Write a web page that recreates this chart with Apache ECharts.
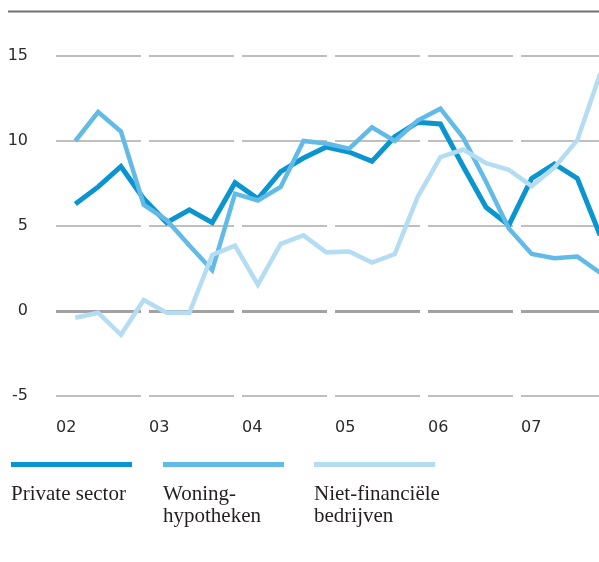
<!DOCTYPE html>
<html>
<head>
<meta charset="utf-8">
<script src="https://cdn.jsdelivr.net/npm/echarts@6/dist/echarts.min.js"></script>
<style>
  html, body { margin: 0; padding: 0; background: #ffffff; }
  #chart { width: 599px; height: 562px; }
</style>
</head>
<body>
<div id="chart"></div>
<script>
// Quarterly observations, 2002 K1 .. 2007 K4
const quarters = [
  '2002 K1','2002 K2','2002 K3','2002 K4',
  '2003 K1','2003 K2','2003 K3','2003 K4',
  '2004 K1','2004 K2','2004 K3','2004 K4',
  '2005 K1','2005 K2','2005 K3','2005 K4',
  '2006 K1','2006 K2','2006 K3','2006 K4',
  '2007 K1','2007 K2','2007 K3','2007 K4'
];
const privateSector = [6.3, 7.3, 8.5, 6.6, 5.2, 5.95, 5.2, 7.55, 6.6, 8.2, 9.0, 9.65,
                       9.35, 8.8, 10.25, 11.1, 11.0, 8.5, 6.1, 5.05, 7.8, 8.65, 7.8, 4.45];
const woningHypotheken = [10.0, 11.7, 10.55, 6.25, 5.35, 3.85, 2.4, 6.9, 6.5, 7.3, 10.0, 9.85,
                          9.55, 10.8, 10.0, 11.2, 11.9, 10.2, 7.6, 4.85, 3.35, 3.1, 3.2, 2.25];
const nietFinBedrijven = [-0.4, -0.1, -1.4, 0.65, -0.1, -0.1, 3.3, 3.85, 1.55, 3.95, 4.45, 3.45,
                          3.5, 2.85, 3.35, 6.7, 9.05, 9.5, 8.7, 8.3, 7.35, 8.45, 10.05, 13.95];
const yearLabels = ['02', '03', '04', '05', '06', '07'];
const seriesNames = ['Private sector', 'Woning-\nhypotheken', 'Niet-financiële\nbedrijven'];
const yTicks = { min: -5, max: 15, step: 5 };

const colors = ['#0a95d0', '#62bbe6', '#b4dcf2'];
const widths = [5, 4.5, 4.5];
const allValues = [privateSector, woningHypotheken, nietFinBedrijven];

const chart = echarts.init(document.getElementById('chart'), null, { renderer: 'canvas' });

const firstYear = 2002;
const legendLefts = [11, 163, 314];
const LINE_H = 22;
const ICON_TOP = 462;
const ICON_H = 5;
// text sits below the legend bar: shift (in px) of the first text line centre below the bar centre
const TEXT_SHIFT = 30;

function legendFor(name, i) {
  const nLines = name.split('\n').length;
  const contentH = nLines * LINE_H;
  // rich text: lineTop = y - contentH/2 + pt/2 ; first line centre = lineTop + LINE_H/2
  const pt = 2 * (TEXT_SHIFT - LINE_H / 2 + contentH / 2);
  // the legend box includes the padded text box which reaches above the bar
  const above = (contentH + pt) / 2 - ICON_H / 2;
  return {
    show: true,
    left: legendLefts[i],
    top: ICON_TOP - above,
    padding: 0,
    orient: 'horizontal',
    data: [name],
    icon: 'rect',
    itemWidth: 121,
    itemHeight: ICON_H,
    selectedMode: false,
    formatter: function (n) {
      return n.split('\n').map(function (s) { return '{t|' + s + '}'; }).join('\n');
    },
    textStyle: {
      fontFamily: '"Liberation Serif", "Times New Roman", serif',
      fontSize: 21,
      lineHeight: LINE_H,
      color: '#231f20',
      padding: [pt, 0, 0, -126],
      rich: {
        t: {
          fontFamily: '"Liberation Serif", "Times New Roman", serif',
          fontSize: 21,
          lineHeight: LINE_H,
          color: '#231f20'
        }
      }
    }
  };
}

const option = {
  animation: false,
  backgroundColor: '#ffffff',
  grid: { left: 56, right: 0, top: 56, bottom: 166, containLabel: false },
  graphic: [{
    type: 'line',
    shape: { x1: 8, y1: 11.5, x2: 599, y2: 11.5 },
    style: { stroke: '#707070', lineWidth: 2 },
    silent: true
  }],
  legend: seriesNames.map(legendFor),
  xAxis: [{
    type: 'value',
    min: firstYear,
    max: firstYear + 543 / 93,
    interval: 1,
    axisLine: { show: false },
    axisTick: { show: false },
    splitLine: { show: false },
    axisLabel: {
      show: true,
      align: 'left',
      margin: 24,
      fontSize: 16,
      fontFamily: '"DejaVu Sans", sans-serif',
      color: '#2b2b2b',
      showMaxLabel: false,
      formatter: function (v) {
        const idx = Math.round(v - firstYear);
        if (Math.abs(v - firstYear - idx) > 1e-6) return '';
        return yearLabels[idx] !== undefined ? yearLabels[idx] : '';
      }
    }
  }, {
    type: 'value',
    show: false,
    min: -0.8457,
    max: 22.95,
    splitLine: { show: false }
  }],
  yAxis: {
    type: 'value',
    min: yTicks.min,
    max: yTicks.max,
    interval: yTicks.step,
    axisLine: { show: false },
    axisTick: { show: false },
    axisLabel: {
      margin: 28,
      fontSize: 16,
      fontFamily: '"DejaVu Sans", sans-serif',
      color: '#2b2b2b',
      padding: [0, 0, 7, 0]
    },
    splitLine: {
      show: true,
      lineStyle: { color: '#ababab', width: 1.6, type: [85, 8] }
    }
  },
  series: seriesNames.map((name, i) => {
    const s = {
      name: name,
      type: 'line',
      xAxisIndex: 1,
      data: allValues[i].map((v, k) => [k, v]),
      symbol: 'none',
      smooth: false,
      clip: true,
      lineStyle: { color: colors[i], width: widths[i], join: 'miter' },
      itemStyle: { color: colors[i] },
      z: 3 + i
    };
    if (i === 0) {
      s.markLine = {
        silent: true,
        symbol: ['none', 'none'],
        z: 1,
        label: { show: false },
        lineStyle: { color: '#a2a2a2', width: 3, type: [85, 8] },
        data: [{ yAxis: 0 }]
      };
    }
    return s;
  })
};

chart.setOption(option);
</script>
</body>
</html>
